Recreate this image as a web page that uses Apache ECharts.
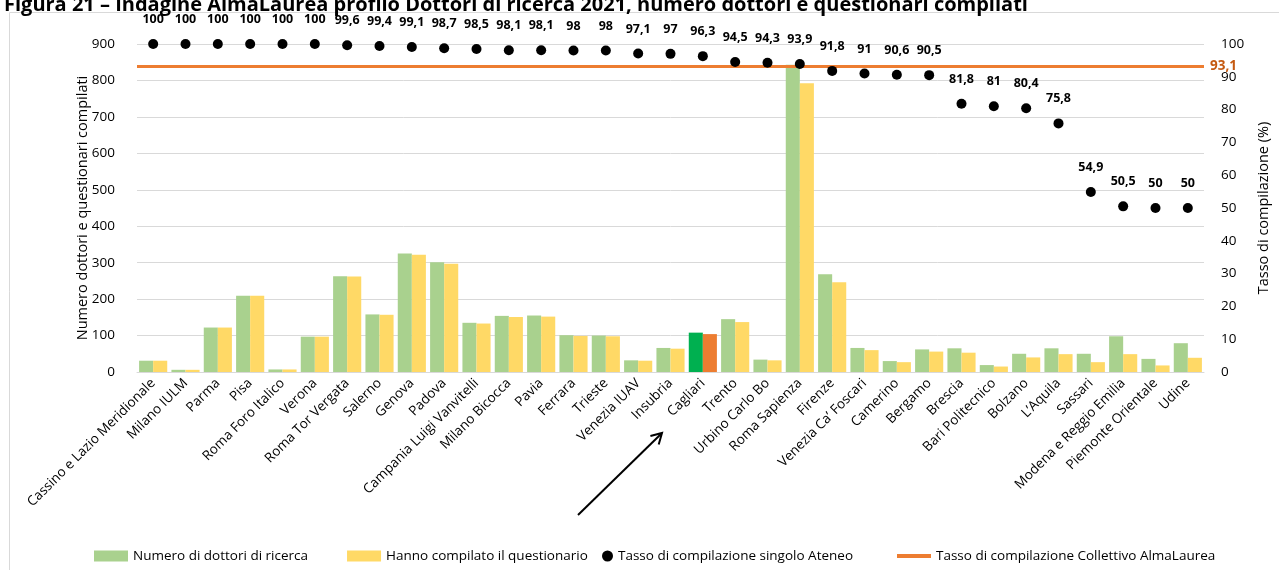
<!DOCTYPE html>
<html><head><meta charset="utf-8">
<script src="https://cdn.jsdelivr.net/npm/echarts@6/dist/echarts.min.js"></script>
<style>html,body{margin:0;padding:0;background:#fff}#c{width:1279px;height:570px}</style>
</head><body><div id="c"></div>
<script>
const categories = ["Cassino e Lazio Meridionale","Milano IULM","Parma","Pisa","Roma Foro Italico","Verona","Roma Tor Vergata","Salerno","Genova","Padova","Campania Luigi Vanvitelli","Milano Bicocca","Pavia","Ferrara","Trieste","Venezia IUAV","Insubria","Cagliari","Trento","Urbino Carlo Bo","Roma Sapienza","Firenze","Venezia Ca\u2019 Foscari","Camerino","Bergamo","Brescia","Bari Politecnico","Bolzano","L\u2019Aquila","Sassari","Modena e Reggio Emilia","Piemonte Orientale","Udine"];
const dottori = [31,6,122,209,7,97,263,158,325,301,135,154,155,101,100,32,66,108,145,34,843,268,66,30,62,65,19,50,65,50,98,36,79];
const compilati = [31,6,122,209,7,97,262,157,322,297,133,151,152,99,98,31,64,104,137,32,792,246,60,27,56,53,15,40,49,27,49,18,39];
const tasso = [100,100,100,100,100,100,99.6,99.4,99.1,98.7,98.5,98.1,98.1,98,98,97.1,97,96.3,94.5,94.3,93.9,91.8,91,90.6,90.5,81.8,81,80.4,75.8,54.9,50.5,50,50];
const collettivo = 93.1;
const highlighted = "Cagliari";
const leftTicks = {min:0, max:900, interval:100};
const rightTicks = {min:0, max:100, interval:10};

const FONT = "'Open Sans',sans-serif";
const fmt = v => String(v).replace('.', ',');
const GREEN='#a9d18e', YELLOW='#ffd966', HGREEN='#00b050', HORANGE='#ed7d31', ORANGE='#ed7d31';

const chart = echarts.init(document.getElementById('c'), null, {renderer:'canvas'});
chart.setOption({
  animation:false,
  textStyle:{fontFamily:FONT},
  title:{text:'Figura 21 \u2013 Indagine AlmaLaurea profilo Dottori di ricerca 2021, numero dottori e questionari compilati',
    left:-1, top:-10, textStyle:{fontFamily:FONT, fontSize:20, fontWeight:'bold', color:'#000'}},
  grid:{left:137, right:74, top:44, bottom:198},
  legend:[
    {data:['Numero di dottori di ricerca','Hanno compilato il questionario'], left:89, top:544, itemWidth:34, itemHeight:11, itemGap:39,
      icon:'rect', textStyle:{fontFamily:FONT, fontSize:13.5, color:'#000'}},
    {data:['Tasso di compilazione singolo Ateneo'], left:597, top:544, itemWidth:11, itemHeight:11, icon:'circle',
      textStyle:{fontFamily:FONT, fontSize:13.5, color:'#000'}},
    {data:['Tasso di compilazione Collettivo AlmaLaurea'], left:892, top:544, itemWidth:34, itemHeight:4, icon:'rect',
      textStyle:{fontFamily:FONT, fontSize:13.5, color:'#000'}}
  ],
  xAxis:{type:'category', data:categories,
    axisLine:{lineStyle:{color:'#d9d9d9', width:1}}, axisTick:{show:false},
    axisLabel:{interval:0, rotate:45, fontSize:13.5, color:'#000', margin:9, fontFamily:FONT}},
  yAxis:[
    {type:'value', min:leftTicks.min, max:leftTicks.max, interval:leftTicks.interval,
      name:'Numero dottori e questionari compilati', nameLocation:'middle', nameGap:47, nameRotate:90, nameMoveOverlap:false,
      nameTextStyle:{fontSize:14.5, color:'#000', fontFamily:FONT},
      axisLabel:{fontSize:13.5, color:'#000', margin:22, fontFamily:FONT},
      splitLine:{lineStyle:{color:'#d9d9d9', width:1}}, axisLine:{show:false}, axisTick:{show:false}},
    {type:'value', min:rightTicks.min, max:rightTicks.max, interval:rightTicks.interval, position:'right',
      name:'Tasso di compilazione (%)', nameLocation:'middle', nameGap:52, nameRotate:90,
      nameTextStyle:{fontSize:14.5, color:'#000', fontFamily:FONT},
      axisLabel:{fontSize:13.5, color:'#000', margin:17, fontFamily:FONT},
      splitLine:{show:false}, axisLine:{show:false}, axisTick:{show:false}}
  ],
  series:[
    {name:'Numero di dottori di ricerca', type:'bar', yAxisIndex:0, barGap:'0%', barCategoryGap:'13%',
      itemStyle:{color:GREEN},
      data:dottori.map((v,i)=> categories[i]===highlighted ? {value:v, itemStyle:{color:HGREEN}} : v), z:2},
    {name:'Hanno compilato il questionario', type:'bar', yAxisIndex:0,
      itemStyle:{color:YELLOW},
      data:compilati.map((v,i)=> categories[i]===highlighted ? {value:v, itemStyle:{color:HORANGE}} : v), z:2},
    {name:'Tasso di compilazione Collettivo AlmaLaurea', type:'line', yAxisIndex:1, data:[],
      itemStyle:{color:ORANGE}, lineStyle:{color:ORANGE, width:3}, z:5,
      markLine:{silent:true, symbol:'none', animation:false,
        lineStyle:{color:ORANGE, width:3, type:'solid'},
        label:{show:true, position:'end', formatter:()=>fmt(collettivo), color:'#c55a11', fontWeight:'bold', fontSize:13.5, fontFamily:FONT, distance:6},
        data:[{yAxis:collettivo}]}},
    {name:'Tasso di compilazione singolo Ateneo', type:'scatter', yAxisIndex:1, symbol:'circle', symbolSize:10,
      itemStyle:{color:'#000', opacity:1}, z:10,
      label:{show:true, position:'top', distance:13, formatter:p=>fmt(p.value), fontWeight:'bold', fontSize:12.5, color:'#000', fontFamily:FONT},
      data:tasso}
  ],
  graphic:[
    {type:'rect', z:-10, silent:true, shape:{x:9.5, y:12.5, width:1400, height:700}, style:{fill:null, stroke:'#d9d9d9', lineWidth:1}},
    {type:'polyline', z:20, silent:true, shape:{points:[[578,515],[661,434]]}, style:{stroke:'#000', lineWidth:2, fill:null}},
    {type:'polyline', z:20, silent:true, shape:{points:[[650.4,436],[662,433],[658.7,444.5]]}, style:{stroke:'#000', lineWidth:2, fill:null}}
  ]
});
</script></body></html>
